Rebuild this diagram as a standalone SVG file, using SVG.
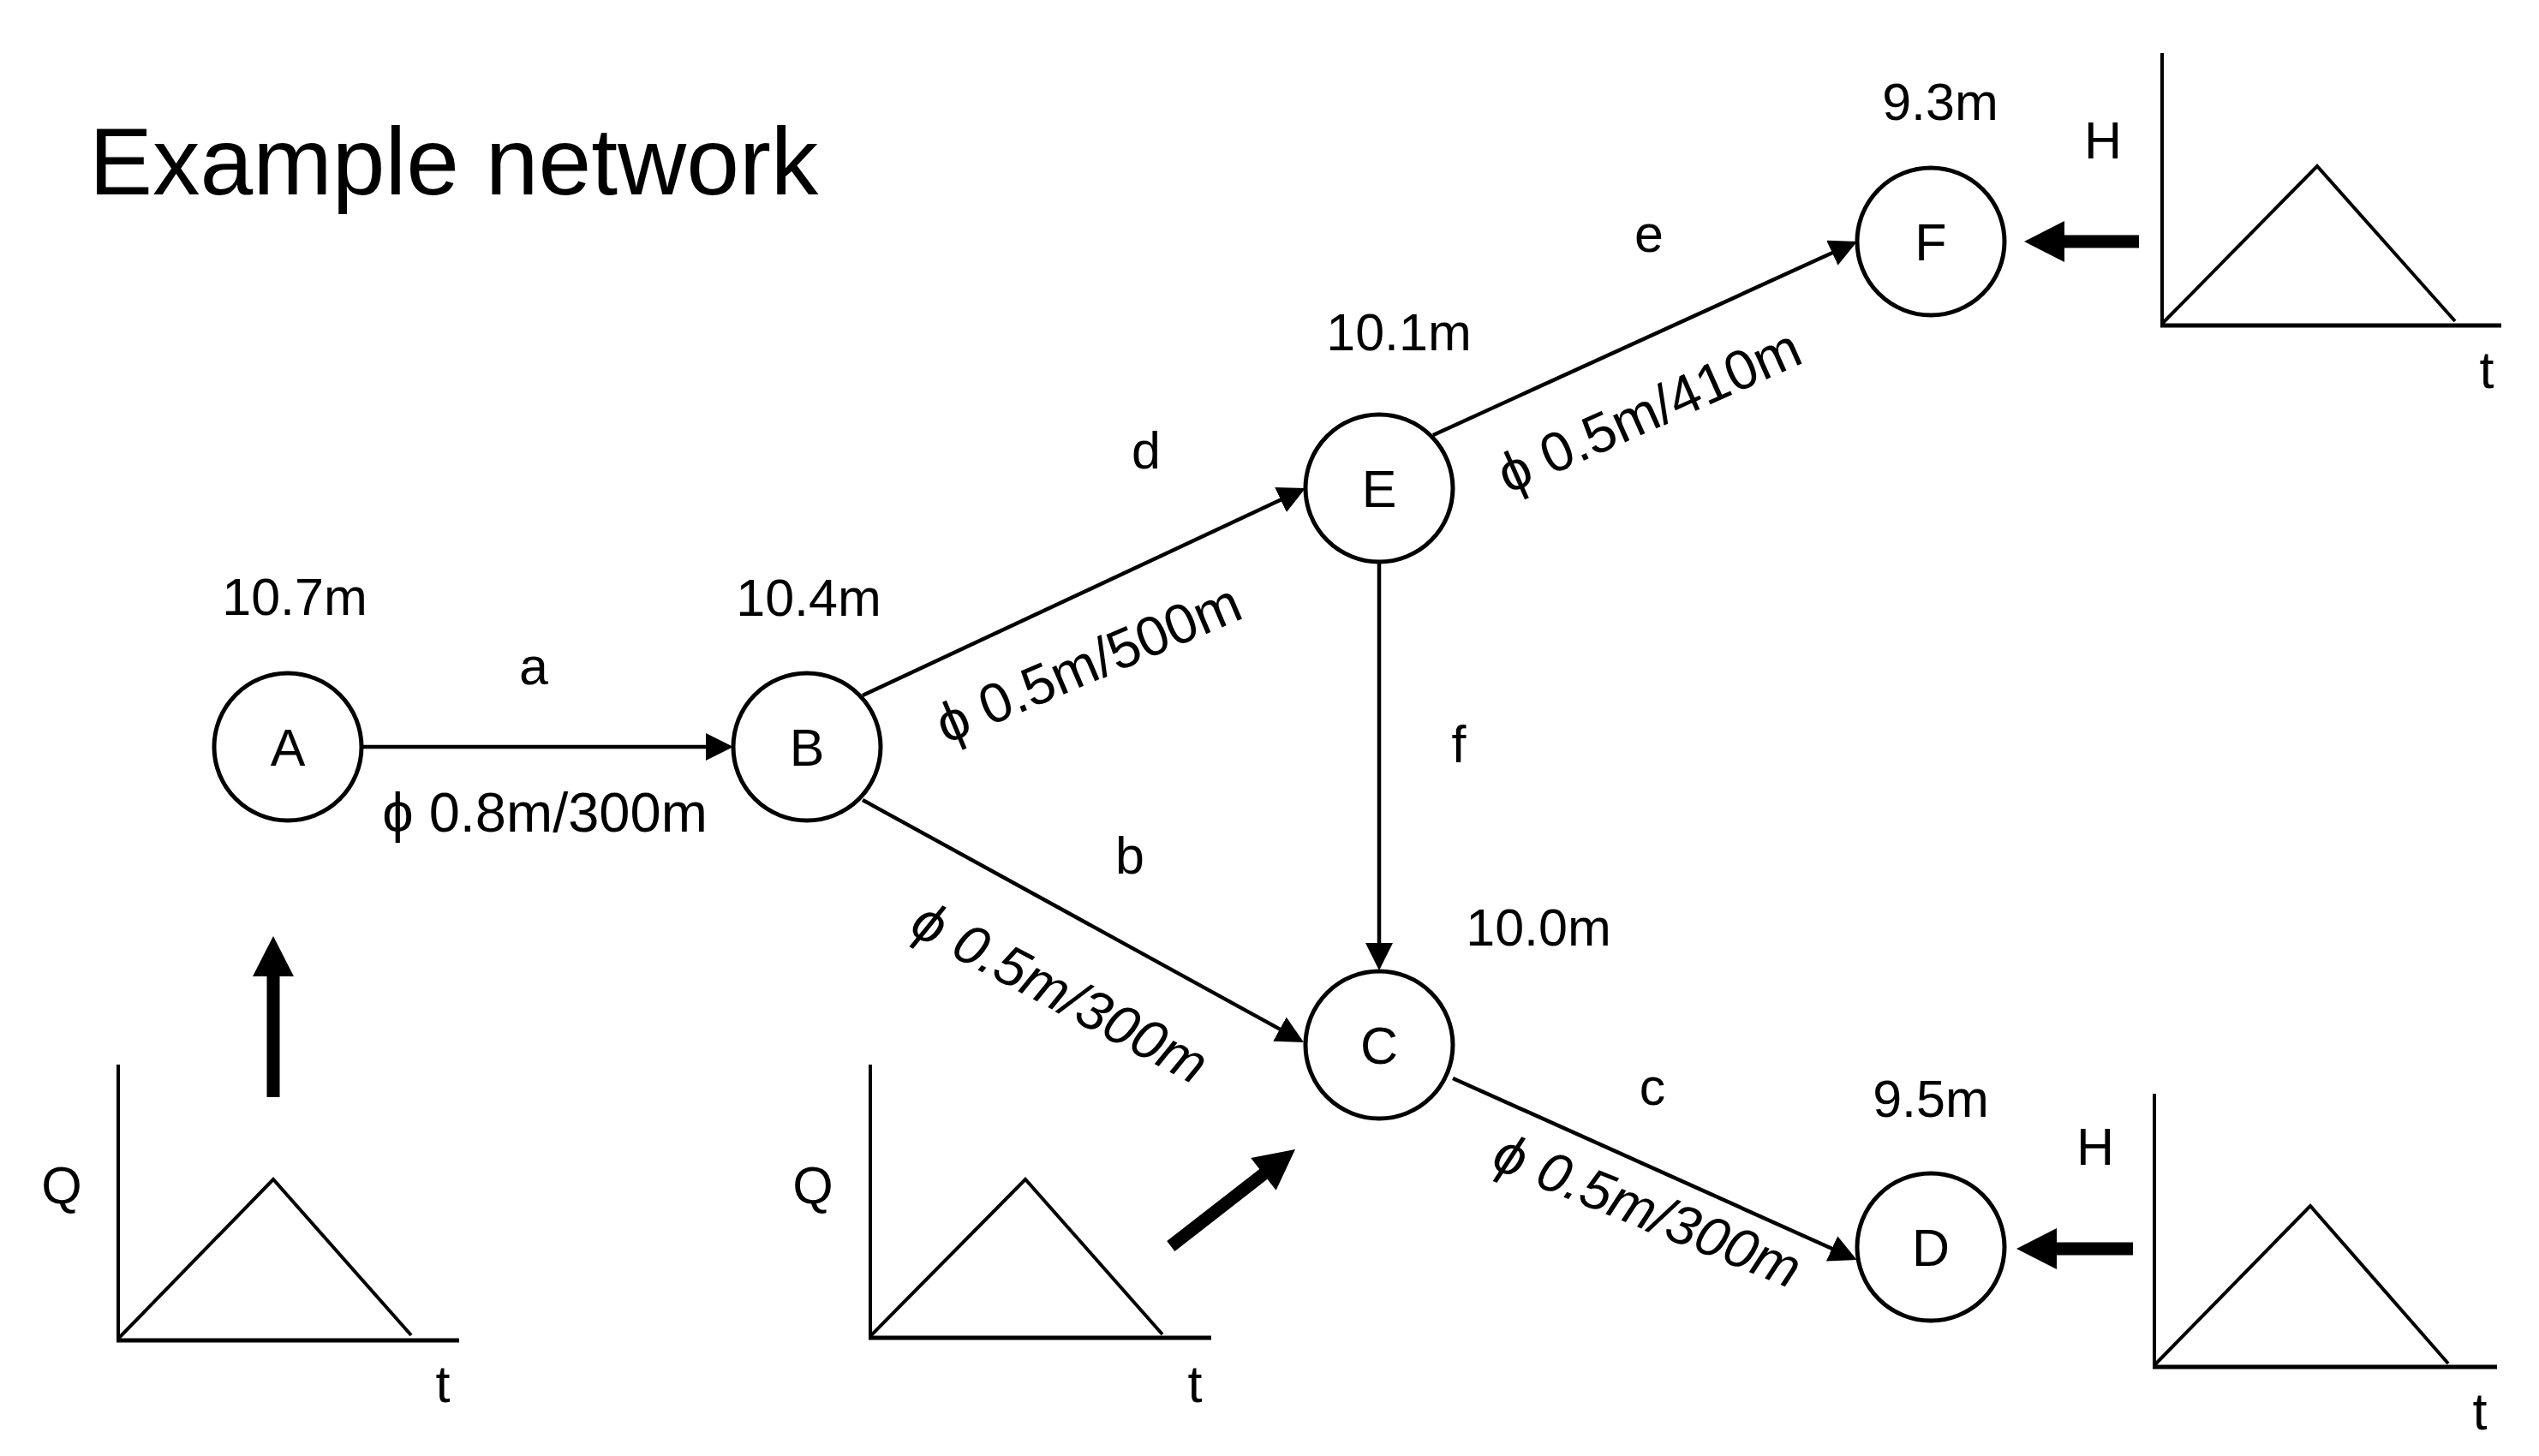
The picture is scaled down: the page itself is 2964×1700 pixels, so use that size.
<svg xmlns="http://www.w3.org/2000/svg" width="2964" height="1700" viewBox="0 0 2964 1700">
<style>
text{font-family:"Liberation Sans",Arial,Helvetica,sans-serif;fill:#000;font-size:61px}
.title{font-size:111px}
.mid{text-anchor:middle}
.it{font-style:italic}
.pl{font-size:65px}
.node circle{fill:#fff;stroke:#000;stroke-width:5}
.edge{stroke:#000;stroke-width:4.5;fill:none;marker-end:url(#ah)}
.axis{stroke:#000;stroke-width:4;fill:none}
.haxis{stroke:#000;stroke-width:5;fill:none}
.tri{stroke:#000;stroke-width:4;fill:none;stroke-linejoin:miter}
.big{fill:#000;stroke:none}
</style>
<defs>
<marker id="ah" viewBox="0 0 32 32" markerWidth="32" markerHeight="32" markerUnits="userSpaceOnUse" refX="12" refY="16" orient="auto">
<path d="M0,0 L32,16 L0,32 z" fill="#000"/>
</marker>
</defs>
<rect width="2964" height="1700" fill="#fff"/>
<text class="title" x="104" y="227">Example network</text>

<g id="connectors">
<line id="edge-a" class="edge" x1="421" y1="872" x2="836" y2="872"/>
<line id="edge-d" class="edge" x1="1007" y1="812" x2="1505.9" y2="578.5"/>
<line id="edge-b" class="edge" x1="1007" y1="934" x2="1504.5" y2="1207.4"/>
<line id="edge-e" class="edge" x1="1673" y1="508" x2="2149.8" y2="290.3"/>
<line id="edge-f" class="edge" x1="1610" y1="656" x2="1610" y2="1113"/>
<line id="edge-c" class="edge" x1="1696" y1="1259" x2="2149.5" y2="1462.7"/>
</g>

<g id="edge-labels">
<text class="mid" x="623" y="799">a</text>
<text class="mid pl" x="636" y="971">ϕ 0.8m/300m</text>
<text class="mid" x="1338" y="547">d</text>
<text class="mid pl" transform="translate(1279,795) rotate(-23)">ϕ 0.5m/500m</text>
<text class="mid" x="1925" y="294">e</text>
<text class="mid pl" transform="translate(1934,500) rotate(-24)">ϕ 0.5m/410m</text>
<text class="mid" x="1703" y="890">f</text>
<text class="mid" x="1319" y="1020">b</text>
<text class="mid it pl" transform="translate(1227,1178) rotate(28)">ϕ 0.5m/300m</text>
<text class="mid" x="1929" y="1290">c</text>
<text class="mid it pl" transform="translate(1915,1434) rotate(22)">ϕ 0.5m/300m</text>
</g>

<g id="node-A" class="node"><circle cx="336" cy="872" r="86"/><text class="mid" x="336" y="894">A</text><text class="mid" x="344" y="718">10.7m</text></g>
<g id="node-B" class="node"><circle cx="942" cy="872" r="86"/><text class="mid" x="942" y="894">B</text><text class="mid" x="944" y="719">10.4m</text></g>
<g id="node-E" class="node"><circle cx="1610" cy="570" r="86"/><text class="mid" x="1610" y="592">E</text><text class="mid" x="1633" y="409">10.1m</text></g>
<g id="node-F" class="node"><circle cx="2254" cy="282" r="86"/><text class="mid" x="2254" y="304">F</text><text class="mid" x="2265" y="140">9.3m</text></g>
<g id="node-C" class="node"><circle cx="1610" cy="1220" r="86"/><text class="mid" x="1610" y="1242">C</text><text class="mid" x="1796" y="1104">10.0m</text></g>
<g id="node-D" class="node"><circle cx="2254" cy="1456" r="86"/><text class="mid" x="2254" y="1478">D</text><text class="mid" x="2254" y="1304">9.5m</text></g>

<g id="graph-Q1">
<line class="axis" x1="138" y1="1243" x2="138" y2="1565"/>
<line class="haxis" x1="136" y1="1565" x2="536" y2="1565"/>
<polyline class="tri" points="138,1563 319,1377 480,1559"/>
<text class="mid" x="72" y="1405">Q</text>
<text class="mid" x="517" y="1637">t</text>
<polygon class="big" points="319,1093 343,1140 326.5,1140 326.5,1281 311.5,1281 311.5,1140 295,1140"/>
</g>

<g id="graph-Q2">
<line class="axis" x1="1016" y1="1243" x2="1016" y2="1562"/>
<line class="haxis" x1="1014" y1="1562" x2="1414" y2="1562"/>
<polyline class="tri" points="1016,1560 1197,1377 1357,1558"/>
<text class="mid" x="949" y="1405">Q</text>
<text class="mid" x="1395" y="1637">t</text>
<polygon class="big" transform="translate(1512,1342) rotate(-37.9)" points="0,0 -47,-24 -47,-7.5 -184,-7.5 -184,7.5 -47,7.5 -47,24"/>
</g>

<g id="graph-H1">
<line class="axis" x1="2524" y1="62" x2="2524" y2="380"/>
<line class="haxis" x1="2522" y1="380" x2="2920" y2="380"/>
<polyline class="tri" points="2524,378 2705,194 2866,375"/>
<text class="mid" x="2455" y="185">H</text>
<text class="mid" x="2903" y="453">t</text>
<polygon class="big" points="2363,282 2410,258 2410,274.5 2497,274.5 2497,289.5 2410,289.5 2410,306"/>
</g>

<g id="graph-H2">
<line class="axis" x1="2515" y1="1277" x2="2515" y2="1596"/>
<line class="haxis" x1="2513" y1="1596" x2="2915" y2="1596"/>
<polyline class="tri" points="2515,1594 2697,1408 2858,1592"/>
<text class="mid" x="2446" y="1360">H</text>
<text class="mid" x="2895" y="1669">t</text>
<polygon class="big" points="2354,1458 2401,1434 2401,1450.5 2490,1450.5 2490,1465.5 2401,1465.5 2401,1482"/>
</g>
</svg>
